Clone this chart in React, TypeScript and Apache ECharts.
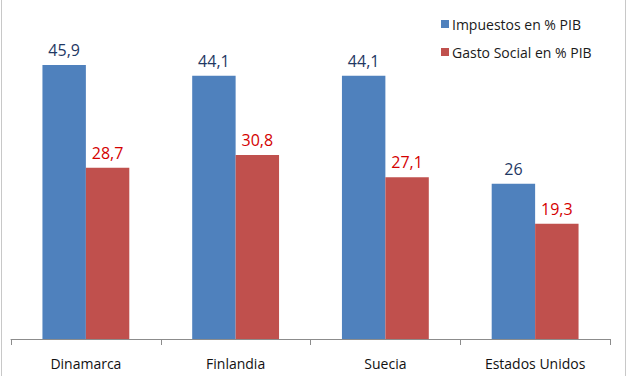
import React, { useEffect, useRef } from "react";
import * as echarts from "echarts";

const categories = ["Dinamarca", "Finlandia", "Suecia", "Estados Unidos"];
const impuestos = [45.9, 44.1, 44.1, 26];
const gastoSocial = [28.7, 30.8, 27.1, 19.3];
const seriesNames = ["Impuestos en % PIB", "Gasto Social en % PIB"];

const FONT = "'Open Sans', 'Noto Sans', sans-serif";

export default function App() {
  const ref = useRef<HTMLDivElement>(null);
  useEffect(() => {
    if (!ref.current) return;
    const chart = echarts.init(ref.current, null, { renderer: "svg" });
    const fmt = (p: any) => String(p.value).replace(".", ",");
    chart.setOption({
      animation: false,
      textStyle: { fontFamily: FONT },
      grid: { left: 11, right: 17, top: 40.5, bottom: 37 },
      legend: {
        orient: "vertical",
        left: 436,
        top: 12,
        itemWidth: 8,
        itemHeight: 8,
        itemGap: 14,
        icon: "rect",
        textStyle: { fontFamily: FONT, fontSize: 14, color: "#1a1a1a", padding: [0, 0, 0, -2] },
        data: seriesNames,
      },
      xAxis: {
        type: "category",
        data: categories,
        axisLine: { lineStyle: { color: "#8c8c8c", width: 1 } },
        axisTick: { show: true, length: 6, lineStyle: { color: "#8c8c8c" } },
        axisLabel: { fontFamily: FONT, fontSize: 14, color: "#111", margin: 17 },
      },
      yAxis: {
        type: "value",
        min: 0,
        max: 50,
        show: false,
        splitLine: { show: false },
      },
      series: [
        {
          name: seriesNames[0],
          type: "bar",
          data: impuestos,
          barGap: "0%",
          barCategoryGap: "42%",
          itemStyle: { color: "#4F81BD" },
          label: {
            show: true,
            position: "top",
            distance: 7,
            formatter: fmt,
            fontFamily: FONT,
            fontSize: 16,
            color: "#1F3864",
          },
        },
        {
          name: seriesNames[1],
          type: "bar",
          data: gastoSocial,
          itemStyle: { color: "#C0504D" },
          label: {
            show: true,
            position: "top",
            distance: 7,
            formatter: fmt,
            fontFamily: FONT,
            fontSize: 16,
            color: "#D40000",
          },
        },
      ],
      graphic: [
        { type: "line", shape: { x1: 1.5, y1: 0, x2: 1.5, y2: 376 }, style: { stroke: "#c8c8c8", lineWidth: 1 } },
        { type: "line", shape: { x1: 625.5, y1: 0, x2: 625.5, y2: 376 }, style: { stroke: "#c8c8c8", lineWidth: 1 } },
      ],
    });
    return () => chart.dispose();
  }, []);
  return <div ref={ref} style={{ width: 627, height: 376, position: "absolute", left: 0, top: 0 }} />;
}
